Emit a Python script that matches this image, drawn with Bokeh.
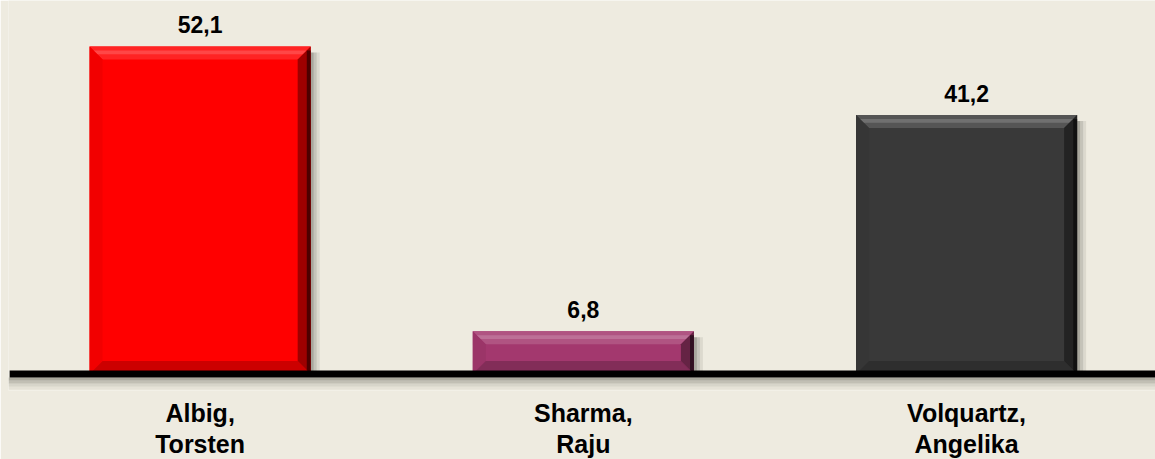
from bokeh.plotting import figure
from bokeh.models import Range1d, FixedTicker, ColumnDataSource
from bokeh.core.properties import value
from bokeh.embed import file_html
from bokeh.resources import INLINE

# ---- data ----
candidates = ["Albig,\nTorsten", "Sharma,\nRaju", "Volquartz,\nAngelika"]
shares = [52.1, 6.8, 41.2]
bar_colors = ["#FF0000", "#A3386E", "#393939"]

# ---- style ----
BG = "#EEEBE0"
FONT = "Liberation Sans"
FRAME_W, FRAME_H = 1147, 390
X_END = 2.993
Y_TOP, Y_BOT = 59.42, -2.625
BAR_W = 0.577
PX_X = FRAME_W / X_END                    # px per x unit
PX_Y = FRAME_H / (Y_TOP - Y_BOT)          # px per y unit


def mix(hex_color, other, t):
    h = hex_color.lstrip("#")
    o = other.lstrip("#")
    a = [int(h[i:i + 2], 16) for i in (0, 2, 4)]
    b = [int(o[i:i + 2], 16) for i in (0, 2, 4)]
    c = [round(a[k] * (1 - t) + b[k] * t) for k in range(3)]
    return "#%02x%02x%02x" % tuple(c)


n = len(candidates)
centers = [i + 0.5 for i in range(n)]

p = figure(frame_width=FRAME_W, frame_height=FRAME_H,
           x_range=Range1d(0, X_END), y_range=Range1d(Y_BOT, Y_TOP),
           output_backend="svg", toolbar_location=None,
           min_border_left=8, min_border_right=0, min_border_top=0,
           min_border_bottom=0, y_axis_location=None)
p.background_fill_color = BG
p.border_fill_color = BG
p.outline_line_color = None
p.xgrid.visible = False
p.ygrid.visible = False

# bar shadows (right side)
for off, a in [(3, 0.55), (6, 0.32), (9, 0.14)]:
    lefts = [c + BAR_W / 2 + (off - 3) / PX_X for c in centers]
    rights = [c + BAR_W / 2 + off / PX_X for c in centers]
    tops = [v - 6 / PX_Y for v in shares]
    p.quad(left=lefts, right=rights, top=tops, bottom=[0] * n,
           fill_color="#6f6f66", fill_alpha=a, line_color=None)

# bars
src = ColumnDataSource(dict(x=centers, top=shares, color=bar_colors))
p.vbar(x="x", top="top", width=BAR_W, bottom=0, fill_color="color",
       line_color=None, source=src)

# bevels
dx = 13 / PX_X
dy = 13 / PX_Y
for c, v, col in zip(centers, shares, bar_colors):
    L, R, T, B = c - BAR_W / 2, c + BAR_W / 2, v, 0
    # top
    p.patch([L, R, R - dx, L + dx], [T, T, T - dy, T - dy],
            fill_color=mix(col, "#ffffff", 0.14), line_color=None)
    p.patch([L + dx * 0.3, R - dx * 0.3, R - dx * 0.6, L + dx * 0.6],
            [T - dy * 0.3, T - dy * 0.3, T - dy * 0.6, T - dy * 0.6],
            fill_color=mix(col, "#ffffff", 0.28), line_color=None)
    # left
    p.patch([L, L + dx, L + dx, L], [T, T - dy, B + dy, B],
            fill_color=mix(col, "#000000", 0.05), line_color=None)
    # bottom
    p.patch([L, R, R - dx, L + dx], [B, B, B + dy, B + dy],
            fill_color=mix(col, "#000000", 0.2), line_color=None)
    # right
    p.patch([R, R, R - dx, R - dx], [T, B, B + dy, T - dy],
            fill_color=mix(col, "#000000", 0.38), line_color=None)
    p.patch([R, R, R - dx * 0.3, R - dx * 0.3],
            [T - dy * 0.3, B, B + dy * 0.3, T - dy * 0.3],
            fill_color=mix(col, "#000000", 0.7), line_color=None)

# axis line shadow + axis line
half = 3.5 / PX_Y
for off, a in [(3, 0.6), (6, 0.4), (9, 0.2), (12, 0.08)]:
    p.quad(left=[0], right=[X_END], top=[-half - (off - 3) / PX_Y],
           bottom=[-half - off / PX_Y], fill_color="#7d7d72", fill_alpha=a,
           line_color=None)
p.quad(left=[0.003], right=[X_END], top=[half], bottom=[-half],
       fill_color="black", line_color=None)

# value labels
p.text(x=centers, y=shares,
       text=[f"{v:.1f}".replace(".", ",") for v in shares],
       text_align="center", text_baseline="alphabetic", y_offset=-22,
       text_font=value(FONT), text_font_style="bold",
       text_font_size="23px", text_color="black")

# x axis (category labels)
ax = p.xaxis[0]
ax.ticker = FixedTicker(ticks=centers)
ax.major_label_overrides = {c: name for c, name in zip(centers, candidates)}
ax.axis_line_color = None
ax.major_tick_line_color = None
ax.major_tick_in = 0
ax.major_tick_out = 0
ax.minor_tick_line_color = None
ax.major_label_standoff = 8
ax.major_label_text_font = FONT
ax.major_label_text_font_style = "bold"
ax.major_label_text_font_size = "25px"
ax.major_label_text_line_height = 1.14
ax.major_label_text_color = "black"

html = file_html(p, INLINE)
html = html.replace("<body>", '<body style="background:%s">' % BG, 1)
open("out.html", "w").write(html)
